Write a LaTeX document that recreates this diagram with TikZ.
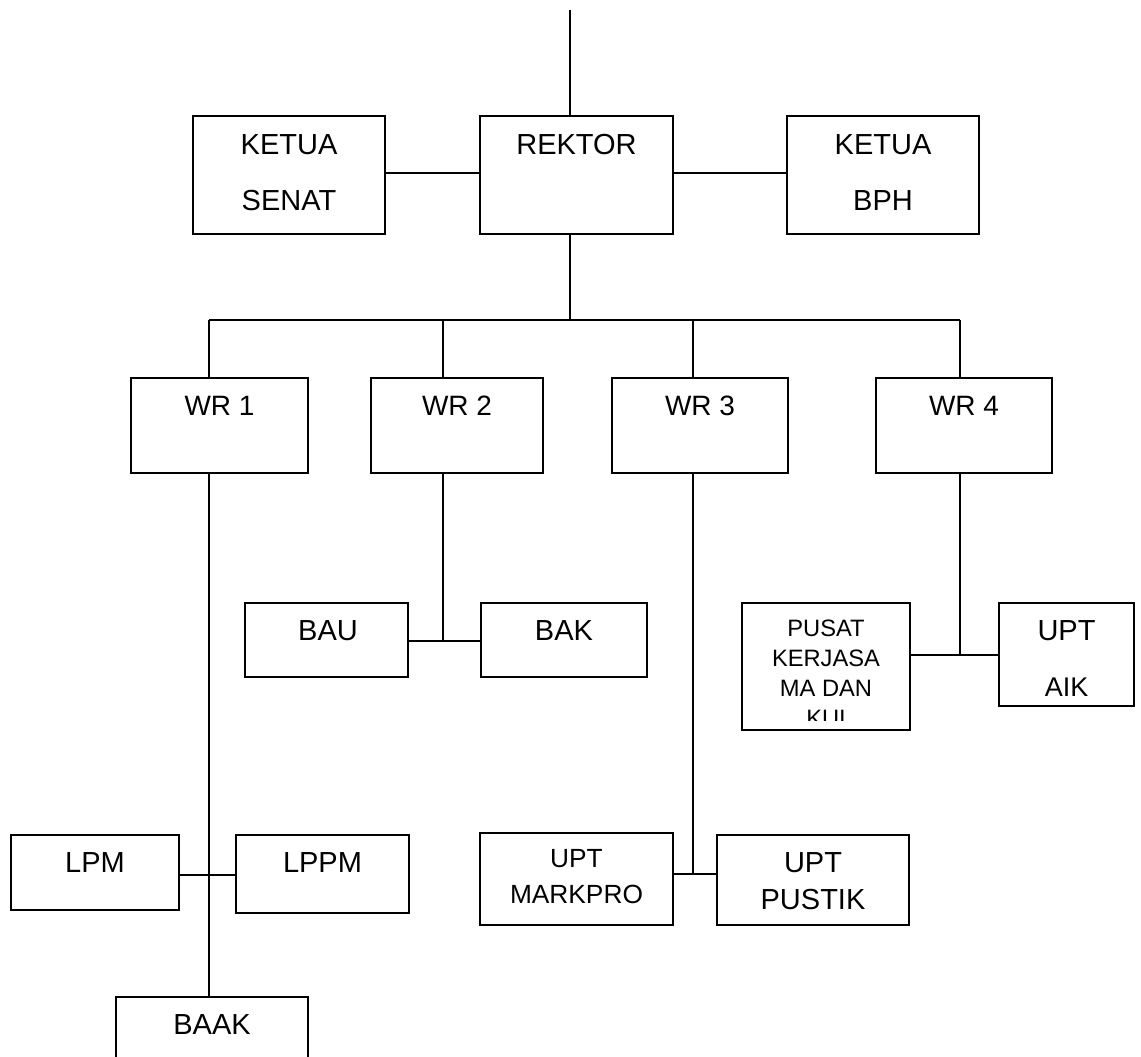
\documentclass[tikz,border=0pt]{standalone}
\usepackage{fontspec}
\setmainfont{Liberation Sans}
\begin{document}
\begin{tikzpicture}[x=1pt,y=-1pt,
  box/.style={draw, line width=1.5pt, inner sep=0pt, rectangle},
  conn/.style={line width=1.5pt},
  txt/.style={inner sep=0pt, font=\fontsize{29}{33}\selectfont},
  txtw/.style={inner sep=0pt, font=\fontsize{28}{32}\selectfont},
  txtm/.style={inner sep=0pt, font=\fontsize{26.3}{30}\selectfont},
  txtk/.style={inner sep=0pt, font=\fontsize{27}{31}\selectfont},
  txts/.style={inner sep=0pt, font=\fontsize{23.7}{28}\selectfont}]
\clip (0,0) rectangle (1141,1057);
% boxes
\node[box, minimum width=192pt, minimum height=118pt] (senat) at (289,175) {};
\node[box, minimum width=193pt, minimum height=118pt] (rektor) at (576.5,175) {};
\node[box, minimum width=192pt, minimum height=118pt] (bph) at (883,175) {};
\node[box, minimum width=177pt, minimum height=95pt] (wr1) at (219.5,425.5) {};
\node[box, minimum width=172pt, minimum height=95pt] (wr2) at (457,425.5) {};
\node[box, minimum width=176pt, minimum height=95pt] (wr3) at (700,425.5) {};
\node[box, minimum width=176pt, minimum height=95pt] (wr4) at (964,425.5) {};
\node[box, minimum width=163pt, minimum height=74pt] (bau) at (326.5,640) {};
\node[box, minimum width=166pt, minimum height=74pt] (bak) at (564,640) {};
\node[box, minimum width=168pt, minimum height=127pt] (pusat) at (826,666.5) {};
\node[box, minimum width=135pt, minimum height=103pt] (aik) at (1066.5,654.5) {};
\node[box, minimum width=168pt, minimum height=75pt] (lpm) at (95,872.5) {};
\node[box, minimum width=173pt, minimum height=78pt] (lppm) at (322.5,874) {};
\node[box, minimum width=192pt, minimum height=83pt] (baak) at (212,1038.5) {};
\node[box, minimum width=193pt, minimum height=92pt] (markpro) at (576.5,879) {};
\node[box, minimum width=192pt, minimum height=90pt] (pustik) at (813,880) {};
% texts
\node[txt] (t1) at (289,145) {KETUA};
\node[txt] (t2) at (289,201) {SENAT};
\node[txt] (t3) at (576.5,145) {REKTOR};
\node[txt] (t4) at (883,145) {KETUA};
\node[txt] (t5) at (883,201) {BPH};
\node[txtw] (t6) at (219.5,406) {WR 1};
\node[txtw] (t7) at (457,406) {WR 2};
\node[txtw] (t8) at (700,406) {WR 3};
\node[txtw] (t9) at (964,406) {WR 4};
\node[txt] (t10) at (328,631) {BAU};
\node[txt] (t11) at (564,631) {BAK};
\node[txt] (t12) at (1066.5,631) {UPT};
\node[txtk] (t13) at (1066.5,687) {AIK};
\node[txt] (t14) at (95,863) {LPM};
\node[txt] (t15) at (322.5,863) {LPPM};
\node[txt] (t16) at (212,1025) {BAAK};
\node[txtm] (t17) at (576.5,859) {UPT};
\node[txtm] (t18) at (576.5,894) {MARKPRO};
\node[txt] (t19) at (813,863) {UPT};
\node[txt] (t20) at (813,900) {PUSTIK};
\begin{scope}
\clip (742,603) rectangle (910,720);
\node[txts] (t21) at (826,628) {PUSAT};
\node[txts] (t22) at (826,658) {KERJASA};
\node[txts] (t23) at (826,688) {MA DAN};
\node[txts] (t24) at (826,718) {KUI};
\end{scope}
% junction coordinates
\coordinate (top) at (570,10);
\coordinate (bl) at (209,320);
\coordinate (b2) at (443,320);
\coordinate (b3) at (693,320);
\coordinate (br) at (960,320);
\coordinate (j1) at (209,875);
\coordinate (j2) at (443,641);
\coordinate (j3) at (693,874);
\coordinate (j4) at (960,655);
% connectors
\draw[conn] (top) -- (top |- rektor.north);
\draw[conn] (senat.east |- 0,173) -- (rektor.west |- 0,173);
\draw[conn] (rektor.east |- 0,173) -- (bph.west |- 0,173);
\draw[conn] (top |- rektor.south) -- (top |- bl);
\draw[conn] (bl) -- (br);
\draw[conn] (bl) -- (bl |- wr1.north);
\draw[conn] (b2) -- (b2 |- wr2.north);
\draw[conn] (b3) -- (b3 |- wr3.north);
\draw[conn] (br) -- (br |- wr4.north);
\draw[conn] (bl |- wr1.south) -- (bl |- baak.north);
\draw[conn] (j1 -| lpm.east) -- (j1 -| lppm.west);
\draw[conn] (b2 |- wr2.south) -- (j2);
\draw[conn] (j2 -| bau.east) -- (j2 -| bak.west);
\draw[conn] (b3 |- wr3.south) -- (j3);
\draw[conn] (j3 -| markpro.east) -- (j3 -| pustik.west);
\draw[conn] (br |- wr4.south) -- (j4);
\draw[conn] (j4 -| pusat.east) -- (j4 -| aik.west);
\end{tikzpicture}
\end{document}
